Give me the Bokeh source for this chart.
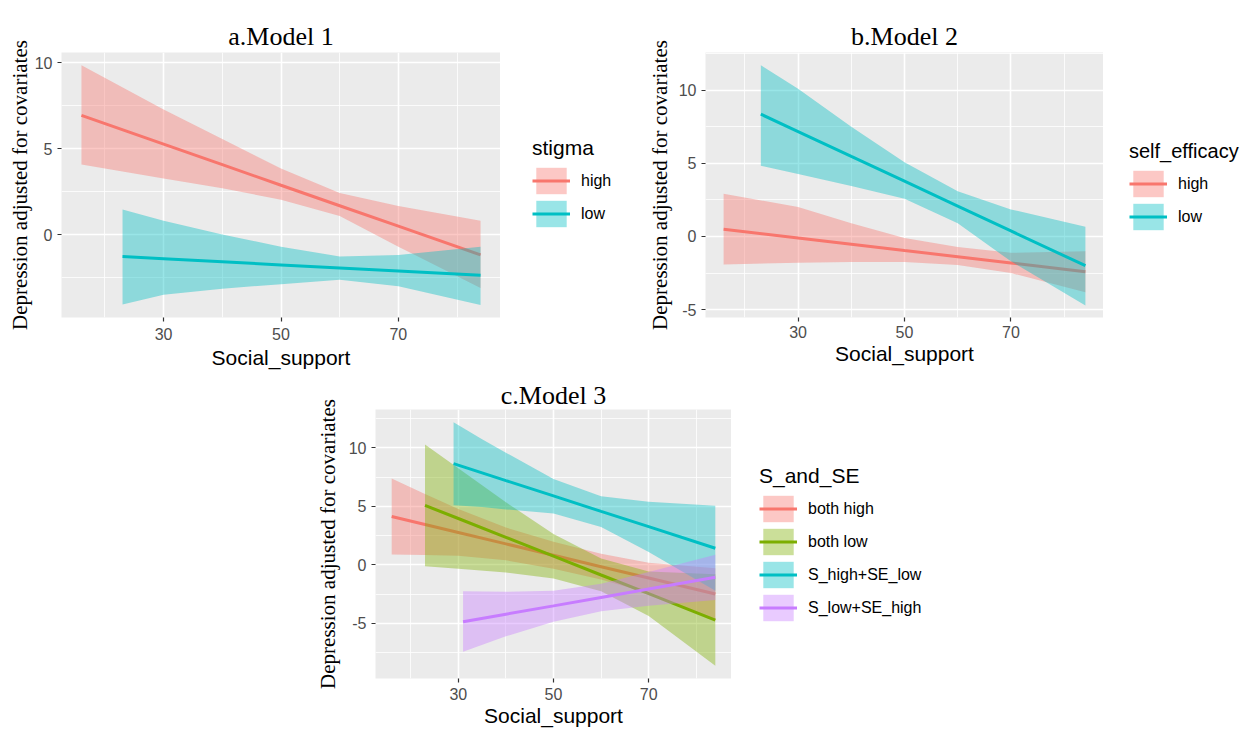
from bokeh.plotting import figure
from bokeh.models import Range1d, FixedTicker, Legend, LegendItem, Spacer
from bokeh.layouts import row, column
from bokeh.embed import file_html
from bokeh.resources import INLINE

RED = "#F8766D"
TEAL = "#00BFC4"
GREEN = "#7CAE00"
PURPLE = "#C77CFF"

# ---------------- Panel a: stigma ----------------
a_high_x = [16, 30, 40, 50, 60, 70, 84]
a_high_fit = [6.93, 5.26, 4.07, 2.87, 1.68, 0.49, -1.18]
a_high_lo = [4.07, 3.27, 2.70, 2.03, 1.08, -0.70, -3.10]
a_high_hi = [9.85, 7.27, 5.56, 3.85, 2.42, 1.66, 0.80]

a_low_x = [23, 30, 40, 50, 60, 70, 84]
a_low_fit = [-1.27, -1.40, -1.58, -1.76, -1.94, -2.12, -2.37]
a_low_lo = [-4.06, -3.49, -3.15, -2.88, -2.63, -3.00, -4.10]
a_low_hi = [1.46, 0.80, 0.00, -0.70, -1.27, -1.18, -0.70]

# ---------------- Panel b: self_efficacy ----------------
b_high_x = [16, 30, 40, 50, 60, 70, 84]
b_high_fit = [0.49, -0.11, -0.53, -0.96, -1.38, -1.81, -2.41]
b_high_lo = [-1.91, -1.80, -1.75, -1.75, -1.95, -2.50, -3.82]
b_high_hi = [2.92, 2.02, 0.90, -0.11, -0.72, -1.12, -1.01]

b_low_x = [23, 30, 40, 50, 60, 70, 84]
b_low_fit = [8.36, 7.17, 5.47, 3.78, 2.08, 0.38, -2.00]
b_low_lo = [4.83, 4.27, 3.45, 2.58, 0.90, -1.70, -4.72]
b_low_hi = [11.70, 10.10, 7.50, 5.07, 3.10, 1.85, 0.67]

# ---------------- Panel c: S_and_SE ----------------
c_bh_x = [16, 23, 30, 40, 50, 60, 70, 84]
c_bh_fit = [4.14, 3.46, 2.78, 1.80, 0.83, -0.15, -1.12, -2.49]
c_bh_lo = [0.90, 0.86, 0.78, 0.40, -0.32, -1.25, -2.42, -4.69]
c_bh_hi = [7.38, 6.06, 4.78, 3.20, 1.98, 0.95, 0.18, -0.29]

c_bl_x = [23, 30, 40, 50, 60, 70, 84]
c_bl_fit = [5.09, 3.97, 2.36, 0.75, -0.86, -2.46, -4.71]
c_bl_lo = [-0.11, -0.33, -0.64, -1.15, -2.26, -4.36, -8.63]
c_bl_hi = [10.29, 8.27, 5.36, 2.65, 0.54, -0.56, -0.79]

c_sh_x = [29, 35, 40, 50, 60, 70, 84]
c_sh_fit = [8.66, 7.87, 7.21, 5.90, 4.58, 3.27, 1.43]
c_sh_lo = [5.10, 4.95, 4.75, 4.40, 3.25, 1.10, -2.20]
c_sh_hi = [12.21, 10.75, 9.60, 7.35, 5.88, 5.40, 5.05]

c_sl_x = [31, 40, 50, 60, 70, 84]
c_sl_fit = [-4.86, -4.21, -3.50, -2.78, -2.06, -1.06]
c_sl_lo = [-7.43, -6.10, -4.85, -3.95, -3.50, -3.00]
c_sl_hi = [-2.26, -2.30, -2.20, -1.60, -0.60, 0.88]

x_major = [30, 50, 70]
x_minor = [20, 40, 60, 80]

groups_a = [("high", RED, a_high_x, a_high_fit, a_high_lo, a_high_hi),
            ("low", TEAL, a_low_x, a_low_fit, a_low_lo, a_low_hi)]
groups_b = [("high", RED, b_high_x, b_high_fit, b_high_lo, b_high_hi),
            ("low", TEAL, b_low_x, b_low_fit, b_low_lo, b_low_hi)]
groups_c = [("both high", RED, c_bh_x, c_bh_fit, c_bh_lo, c_bh_hi),
            ("both low", GREEN, c_bl_x, c_bl_fit, c_bl_lo, c_bl_hi),
            ("S_high+SE_low", TEAL, c_sh_x, c_sh_fit, c_sh_lo, c_sh_hi),
            ("S_low+SE_high", PURPLE, c_sl_x, c_sl_fit, c_sl_lo, c_sl_hi)]


def make_panel(title, yr, ymajor, yminor, groups, w, h, bl, bt, bb,
               xstand, xlstand, ylstand, tstand):
    p = figure(width=w, height=h,
               x_range=Range1d(12.6, 87.4), y_range=Range1d(*yr),
               output_backend="svg", toolbar_location=None,
               min_border_left=bl, min_border_right=0,
               min_border_top=bt, min_border_bottom=bb)
    p.background_fill_color = "#EBEBEB"
    p.border_fill_color = "white"
    p.outline_line_color = None

    p.title.text = title
    p.title.text_font = "Liberation Serif"
    p.title.text_font_size = "26px"
    p.title.text_font_style = "normal"
    p.title.text_color = "black"
    p.title.align = "center"
    p.title.standoff = tstand

    p.xaxis.ticker = FixedTicker(ticks=x_major, minor_ticks=x_minor)
    p.yaxis.ticker = FixedTicker(ticks=ymajor, minor_ticks=yminor)
    p.yaxis.major_label_overrides = {v: str(v) for v in ymajor}
    for ax in (p.xaxis[0], p.yaxis[0]):
        ax.axis_line_color = None
        ax.minor_tick_line_color = None
        ax.major_tick_in = 0
        ax.major_tick_out = 4
        ax.major_tick_line_color = "#333333"
        ax.major_tick_line_width = 1.2
        ax.major_label_text_color = "#4D4D4D"
        ax.major_label_text_font = "Liberation Sans"
        ax.major_label_text_font_size = "16px"
        ax.axis_label_text_font_style = "normal"
        ax.axis_label_text_color = "black"
    p.xaxis.major_label_standoff = xstand
    p.xaxis.axis_label_standoff = xlstand
    p.yaxis.major_label_standoff = 5
    p.yaxis.axis_label_standoff = ylstand
    p.xaxis.axis_label = "Social_support"
    p.xaxis.axis_label_text_font = "Liberation Sans"
    p.xaxis.axis_label_text_font_size = "21px"
    p.yaxis.axis_label = "Depression adjusted for covariates"
    p.yaxis.axis_label_text_font = "Liberation Serif"
    p.yaxis.axis_label_text_font_size = "21px"

    for g in (p.xgrid[0], p.ygrid[0]):
        g.grid_line_color = "white"
        g.grid_line_width = 1.6
        g.minor_grid_line_color = "white"
        g.minor_grid_line_width = 0.8

    for label, color, xs, fit, lo, hi in groups:
        p.varea(x=xs, y1=lo, y2=hi, fill_color=color, fill_alpha=0.4)
        p.line(x=xs, y=fit, line_color=color, line_width=3)
    return p


def make_legend(title, title_size, groups, w, h):
    # legend-only figure: same series, but its view range keeps them out of sight,
    # so only the legend keys are shown
    lf = figure(width=w, height=h, x_range=Range1d(0, 1), y_range=Range1d(100, 101),
                x_axis_location=None, y_axis_location=None,
                output_backend="svg", toolbar_location=None, min_border=0)
    lf.outline_line_color = None
    lf.grid.visible = False
    items = []
    for label, color, xs, fit, lo, hi in groups:
        va = lf.varea(x=xs, y1=lo, y2=hi, fill_color=color, fill_alpha=0.4)
        ln = lf.line(x=xs, y=fit, line_color=color, line_width=3)
        items.append(LegendItem(label=label, renderers=[va, ln]))
    legend = Legend(items=items, title=title, location="top_left",
                    orientation="vertical",
                    glyph_width=38, glyph_height=33, spacing=0, padding=0,
                    margin=0, label_standoff=11, label_height=33,
                    title_text_font="Liberation Sans", title_text_font_size=title_size,
                    title_text_font_style="normal", title_text_color="black",
                    title_standoff=4,
                    label_text_font="Liberation Sans", label_text_font_size="16px",
                    label_text_color="black",
                    background_fill_alpha=0, border_line_alpha=0)
    lf.add_layout(legend, "center")
    return lf


pa = make_panel("a.Model 1", (-4.82, 10.59), [0, 5, 10], [-2.5, 2.5, 7.5], groups_a,
                496, 369, 56, 39, 56, 6, 3, 0, 4)
leg_a = make_legend("stigma", "21px", groups_a, 94, 100)

pb = make_panel("b.Model 2", (-5.54, 12.58), [-5, 0, 5, 10], [-2.5, 2.5, 7.5, 12.5], groups_b,
                459, 369, 60, 48, 52, 4, 1, 4, 4)
leg_b = make_legend("self_efficacy", "20px", groups_b, 112, 100)

pc = make_panel("c.Model 3", (-9.71, 13.29), [-5, 0, 5, 10], [-7.5, -2.5, 2.5, 7.5, 12.5], groups_c,
                419, 358, 62, 36, 53, 5, 1, 6, 0)
leg_c = make_legend("S_and_SE", "21px", groups_c, 180, 170)

row1 = row(Spacer(width=4, height=10), pa, Spacer(width=32, height=10),
           column(Spacer(width=10, height=132), leg_a),
           Spacer(width=18, height=10), pb, Spacer(width=26, height=10),
           column(Spacer(width=10, height=136), leg_b))
row2 = row(Spacer(width=312, height=10), pc, Spacer(width=28, height=10),
           column(Spacer(width=10, height=91), leg_c))
layout = column(Spacer(width=10, height=4), row1, row2)

open("out.html", "w").write(file_html(layout, INLINE))
